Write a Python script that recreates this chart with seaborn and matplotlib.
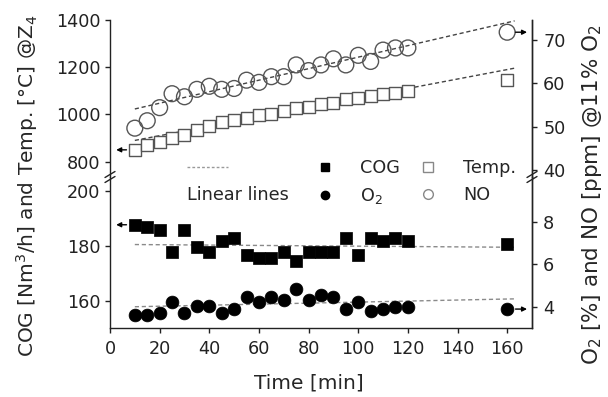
import numpy as np
import pandas as pd
import matplotlib
matplotlib.use("Agg")
import matplotlib.pyplot as plt
from matplotlib.lines import Line2D
import seaborn as sns

# values
time = [10, 15, 20, 25, 30, 35, 40, 45, 50, 55, 60, 65, 70, 75, 80, 85, 90, 95, 100, 105, 110, 115, 120, 160]
temp = [850, 871, 885, 899, 911, 933, 950, 968, 978, 983, 998, 1002, 1016, 1026, 1033, 1044, 1050, 1064, 1069, 1080, 1087, 1092, 1099, 1146]
no = [49.7, 51.4, 54.4, 57.6, 56.9, 58.6, 59.3, 58.6, 58.8, 60.7, 60.2, 61.5, 61.5, 64.2, 62.9, 64.2, 65.6, 64.2, 66.4, 65.0, 67.6, 68.1, 68.1, 71.7]
cog = [187.6, 186.7, 185.6, 177.6, 185.6, 179.6, 177.6, 181.6, 182.7, 176.5, 175.5, 175.5, 177.6, 174.5, 177.6, 177.6, 177.6, 182.7, 176.6, 182.7, 181.6, 182.7, 181.6, 180.6]
o2 = [3.62, 3.62, 3.7, 4.2, 3.7, 4.05, 4.05, 3.7, 3.9, 4.46, 4.22, 4.46, 4.32, 4.83, 4.32, 4.55, 4.46, 3.89, 4.22, 3.8, 3.89, 4.0, 4.0, 3.89]

# linear lines (end points)
fit_t = [10, 163]
temp_fit = [890, 1196]
no_fit = [54.1, 74.3]
cog_fit = [180.4, 179.4]
o2_fit = [4.0, 4.37]

x_ticks = [0, 20, 40, 60, 80, 100, 120, 140, 160]
temp_ticks = [800, 1000, 1200, 1400]
no_ticks = [40, 50, 60, 70]
cog_ticks = [160, 180, 200]
o2_ticks = [4, 6, 8]

sns.set_style("ticks")
plt.rcParams['font.family'] = ['DejaVu Sans']
plt.rcParams['mathtext.fontset'] = 'dejavusans'

W, H = 608, 397
fig = plt.figure(figsize=(W / 100, H / 100), dpi=100)
L, R = 110 / W, 532 / W
T, M, B = 1 - 20 / H, 1 - 177 / H, 1 - 328 / H

ax_t = fig.add_axes([L, M, R - L, T - M])
ax_b = fig.add_axes([L, B, R - L, M - B])
ax_tr = ax_t.twinx()
ax_br = ax_b.twinx()

fs = 12.7
for ax in (ax_t, ax_b, ax_tr, ax_br):
    ax.set_xlim(0, 170)
    ax.spines['top'].set_visible(False)
    for s in ax.spines.values():
        s.set_linewidth(1.0)
        s.set_color('#222')
    ax.tick_params(direction='out', length=3.6, width=1.0, labelsize=fs, colors='#222')
for ax in (ax_t, ax_tr):
    ax.spines['bottom'].set_visible(False)
    ax.tick_params(axis='x', bottom=False, labelbottom=False)
for ax in (ax_tr, ax_br):
    ax.spines['left'].set_visible(False)
    ax.spines['bottom'].set_visible(False)
    ax.tick_params(axis='y', pad=4.5)
ax_b.tick_params(axis='x', pad=5)

ax_t.set_ylim(735, 1400)
ax_tr.set_ylim(38.5, 74.5)
ax_b.set_ylim(150, 205)
ax_br.set_ylim(3, 10.1)
ax_t.set_yticks(temp_ticks)
ax_tr.set_yticks(no_ticks)
ax_b.set_yticks(cog_ticks)
ax_br.set_yticks(o2_ticks)
ax_b.set_xticks(x_ticks)

dark = '#444444'
light = '#8a8a8a'

# top panel: temperature (left) and NO (right)
sns.lineplot(x=fit_t, y=temp_fit, ax=ax_t, color=dark, lw=1.0, linestyle=(0, (3, 2)))
sns.scatterplot(x=time, y=temp, ax=ax_t, marker='s', s=85, color='white',
                edgecolor='#555555', linewidth=1.0, zorder=3)
sns.lineplot(x=fit_t, y=no_fit, ax=ax_tr, color=dark, lw=1.0, linestyle=(0, (3, 2)))
sns.scatterplot(x=time, y=no, ax=ax_tr, marker='o', s=130, color='none',
                edgecolor='#555555', linewidth=1.0, zorder=3)

# bottom panel: COG (left) and O2 (right)
sns.lineplot(x=fit_t, y=cog_fit, ax=ax_b, color=light, lw=1.0, linestyle=(0, (3, 2)))
sns.scatterplot(x=time, y=cog, ax=ax_b, marker='s', s=70, color='black',
                edgecolor='black', linewidth=0.5, zorder=3)
sns.lineplot(x=fit_t, y=o2_fit, ax=ax_br, color=light, lw=1.0, linestyle=(0, (3, 2)))
sns.scatterplot(x=time, y=o2, ax=ax_br, marker='o', s=85, color='black',
                edgecolor='black', linewidth=0.5, zorder=3)

# arrows pointing at the relevant axis
arrow = dict(arrowstyle='-|>', color='black', lw=1.0, mutation_scale=7, shrinkA=6, shrinkB=0)
ax_t.annotate('', xy=(2.5, temp[0]), xytext=(time[0], temp[0]), arrowprops=arrow)
ax_b.annotate('', xy=(2.5, cog[0]), xytext=(time[0], cog[0]), arrowprops=arrow)
ax_tr.annotate('', xy=(168, no[-1]), xytext=(time[-1], no[-1]), arrowprops=arrow)
ax_br.annotate('', xy=(168, o2[-1]), xytext=(time[-1], o2[-1]), arrowprops=arrow)

# axis break marks
for xb in (110, 532):
    for off in (-2.5, 2.5):
        x0, x1 = (xb - 5) / W, (xb + 5) / W
        y0, y1 = 1 - (177 + 3 + off) / H, 1 - (177 - 3 + off) / H
        fig.add_artist(Line2D([x0, x1], [y0, y1], color='#222', lw=1.0))

# legend
handles = [
    Line2D([], [], marker='s', ls='', color='black', markersize=6),
    Line2D([], [], marker='o', ls='', color='black', markersize=6),
    Line2D([], [], marker='s', ls='', markerfacecolor='white', markeredgecolor='#888', markersize=7),
    Line2D([], [], marker='o', ls='', markerfacecolor='white', markeredgecolor='#888', markersize=7),
]
labels = ['COG', 'O$_2$', 'Temp.', 'NO']
fig.legend(handles, labels, loc='center left', bbox_to_anchor=(311 / W, 1 - 182.5 / H),
           ncol=2, frameon=False, borderpad=0, borderaxespad=0, handlelength=1.6,
           handletextpad=1.2, columnspacing=0.75, labelspacing=0.5, fontsize=fs)
fig.add_artist(Line2D([187 / W, 228 / W], [1 - 167 / H] * 2, color='#999', lw=1.0,
                      linestyle=(0, (2, 1.5))))
fig.text(187 / W, 1 - 195 / H, 'Linear lines', ha='left', va='center', fontsize=fs)

# axis labels
lab = 14.5
fig.text(309 / W, 1 - 383 / H, 'Time [min]', ha='center', va='center', fontsize=lab)
fig.text(27 / W, 1 - 186 / H, 'COG [Nm$^3$/h] and Temp. [°C] @Z$_4$', rotation=90,
         ha='center', va='center', fontsize=lab)
fig.text(592 / W, 1 - 195 / H, 'O$_2$ [%] and NO [ppm] @11% O$_2$', rotation=90,
         ha='center', va='center', fontsize=15.5)

fig.savefig('out.png', dpi=100)
